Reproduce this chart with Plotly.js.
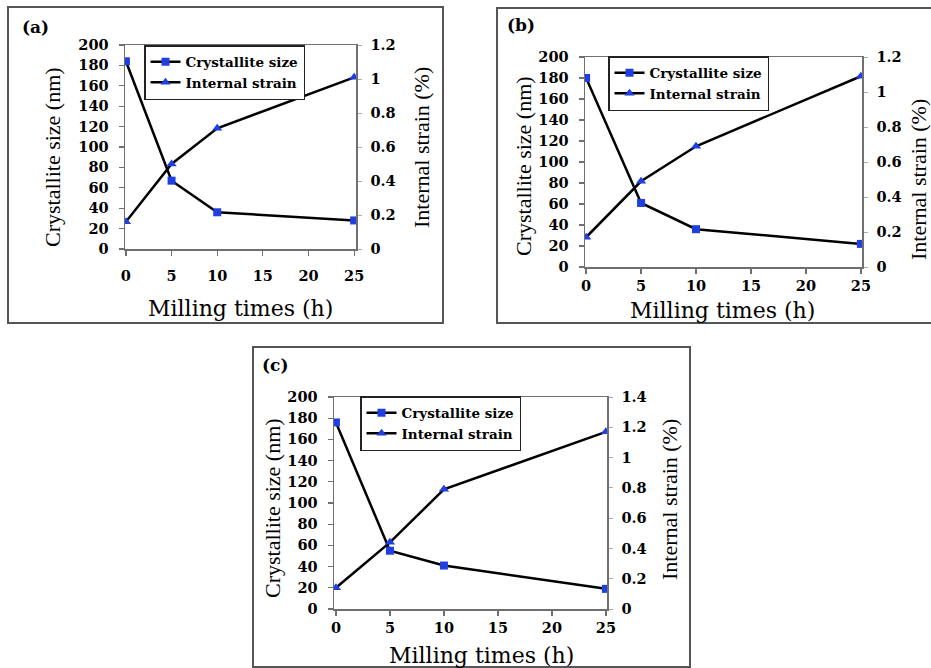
<!DOCTYPE html>
<html><head><meta charset="utf-8">
<script src="https://cdn.plot.ly/plotly-3.0.1.min.js"></script>
<style>body{margin:0;background:#fff}#chart{width:931px;height:668px}</style>
</head><body><div id="chart"></div>
<script>
// ---- data ----
const millingTimes = [0, 5, 10, 25];
const sizeA   = [184, 67, 36, 28];
const strainA = [0.16, 0.50, 0.71, 1.01];
const sizeB   = [180, 61, 36, 22];
const strainB = [0.17, 0.49, 0.69, 1.09];
const sizeC   = [176, 55, 41, 19];
const strainC = [0.14, 0.44, 0.79, 1.17];
const xTickVals = [0, 5, 10, 15, 20, 25];
const xTickText = ['0', '5', '10', '15', '20', '25'];
const panelLabels = ['(a)', '(b)', '(c)'];
const seriesNames = ['Crystallite size', 'Internal strain'];
const xTitleText = 'Milling times (h)';
const yTitleText = 'Crystallite size (nm)';
const y2TitleText = 'Internal strain (%)';

// ---- helpers for layout placement (pixel -> paper) ----
const W = 931, H = 668;
const px = v => v / W;
const py = v => 1 - v / H;

const blue = '#1f3fe0';
const tickFont = {family: 'DejaVu Serif', size: 14.5, color: '#000', weight: 'bold'};
const legFont = {family: 'DejaVu Serif', size: 13.5, color: '#000', weight: 700};
const axCol = '#707070';

function mkX(l, r, anchor, range, standoff) {
  const ax = {domain: [px(l), px(r)], anchor: anchor, range: range, tickmode: 'array',
    tickvals: xTickVals, ticktext: xTickText.map(t => '<b>' + t + '</b>'),
    showline: true, linecolor: axCol, linewidth: 1.5, mirror: true,
    ticks: 'outside', ticklen: 5, tickcolor: axCol, tickwidth: 1.2,
    showgrid: false, zeroline: false, tickfont: tickFont, fixedrange: true};
  if (standoff !== undefined) ax.ticklabelstandoff = standoff;
  return ax;
}
function mkYL(top, bot, anchor) {
  return {domain: [py(bot), py(top)], anchor: anchor, range: [0, 200], dtick: 20,
    tickprefix: '<b>', ticksuffix: '</b>',
    showline: true, linecolor: axCol, linewidth: 1.5,
    ticks: 'outside', ticklen: 5, tickcolor: axCol, tickwidth: 1.2,
    showgrid: false, zeroline: false, tickfont: tickFont, ticklabelstandoff: 7, fixedrange: true};
}
function mkYR(overlay, anchor, maxv) {
  return {overlaying: overlay, anchor: anchor, side: 'right', range: [0, maxv], dtick: 0.2,
    tickprefix: '<b>', ticksuffix: '</b>',
    showline: true, linecolor: axCol, linewidth: 1.5,
    ticks: 'outside', ticklen: 4, tickcolor: '#aaa', tickwidth: 1,
    showgrid: false, zeroline: false, tickfont: tickFont, ticklabelstandoff: 6, fixedrange: true};
}
function mkLegend(l, t) {
  return {x: px(l), y: py(t), xanchor: 'left', yanchor: 'top', bgcolor: '#fff',
    bordercolor: '#222', borderwidth: 1.5, font: legFont, tracegroupgap: 0, itemwidth: 30};
}
function sizeTrace(y, xa, ya, leg) {
  return {x: millingTimes, y: y, xaxis: xa, yaxis: ya, legend: leg, name: seriesNames[0],
    mode: 'lines+markers', line: {color: '#000', width: 2.5},
    marker: {symbol: 'square', size: 8, color: blue}};
}
function strainTrace(y, xa, ya, leg) {
  return {x: millingTimes, y: y, xaxis: xa, yaxis: ya, legend: leg, name: seriesNames[1],
    mode: 'lines+markers', line: {color: '#000', width: 2.5},
    marker: {symbol: 'triangle-up', size: 9, color: blue}};
}

const data = [
  sizeTrace(sizeA, 'x', 'y', 'legend'),
  strainTrace(strainA, 'x', 'y2', 'legend'),
  sizeTrace(sizeB, 'x2', 'y3', 'legend2'),
  strainTrace(strainB, 'x2', 'y4', 'legend2'),
  sizeTrace(sizeC, 'x3', 'y5', 'legend3'),
  strainTrace(strainC, 'x3', 'y6', 'legend3')
];

const titleFontV = {family: 'Liberation Serif', size: 22, color: '#000'};
const titleFontH = {family: 'DejaVu Serif', size: 22, color: '#000'};
const labFont = {family: 'DejaVu Serif', size: 17, color: '#000', weight: 700};

function ann(text, x, y, font, angle, xanchor) {
  return {text: text, xref: 'paper', yref: 'paper', x: px(x), y: py(y), showarrow: false,
    font: font, textangle: angle || 0, xanchor: xanchor || 'center', yanchor: 'middle'};
}

const annotations = [
  ann('<b>' + panelLabels[0] + '</b>', 20, 27, labFont, 0, 'left'),
  ann(yTitleText, 53, 157, titleFontV, -90),
  ann(y2TitleText, 422, 148, titleFontV, -90),
  ann(xTitleText, 241, 308, titleFontH),
  ann('<b>' + panelLabels[1] + '</b>', 505, 25, labFont, 0, 'left'),
  ann(yTitleText, 523, 166, titleFontV, -90),
  ann(y2TitleText, 918, 180, titleFontV, -90),
  ann(xTitleText, 722, 311, titleFontH),
  ann('<b>' + panelLabels[2] + '</b>', 260, 365, labFont, 0, 'left'),
  ann(yTitleText, 272, 508, titleFontV, -90),
  ann(y2TitleText, 669, 500, titleFontV, -90),
  ann(xTitleText, 482, 655, titleFontH)
];

function box(l, t, r, b) {
  return {type: 'rect', xref: 'paper', yref: 'paper', x0: px(l), x1: px(r), y0: py(b), y1: py(t),
    line: {color: '#555', width: 2}, fillcolor: 'rgba(0,0,0,0)', layer: 'below'};
}

const layout = {
  width: W, height: H, margin: {l: 0, r: 0, t: 0, b: 0},
  paper_bgcolor: '#fff', plot_bgcolor: 'rgba(0,0,0,0)',
  showlegend: true,
  xaxis: mkX(125, 356, 'y', [-0.1, 25.2], 8),
  yaxis: mkYL(45, 249, 'x'),
  yaxis2: mkYR('y', 'x', 1.2),
  xaxis2: mkX(585, 862, 'y3', [-0.1, 25.1]),
  yaxis3: mkYL(57, 267, 'x2'),
  yaxis4: mkYR('y3', 'x2', 1.2),
  xaxis3: mkX(334, 607, 'y5', [-0.18, 25.1]),
  yaxis5: mkYL(397, 609, 'x3'),
  yaxis6: mkYR('y5', 'x3', 1.4),
  legend: mkLegend(144, 45),
  legend2: mkLegend(608, 56),
  legend3: mkLegend(360, 396),
  annotations: annotations,
  shapes: [box(8, 7, 443, 323), box(497, 8, 935, 323), box(253, 347, 690, 667)]
};

Plotly.newPlot('chart', data, layout, {displayModeBar: false, staticPlot: true});
</script>
</body></html>
